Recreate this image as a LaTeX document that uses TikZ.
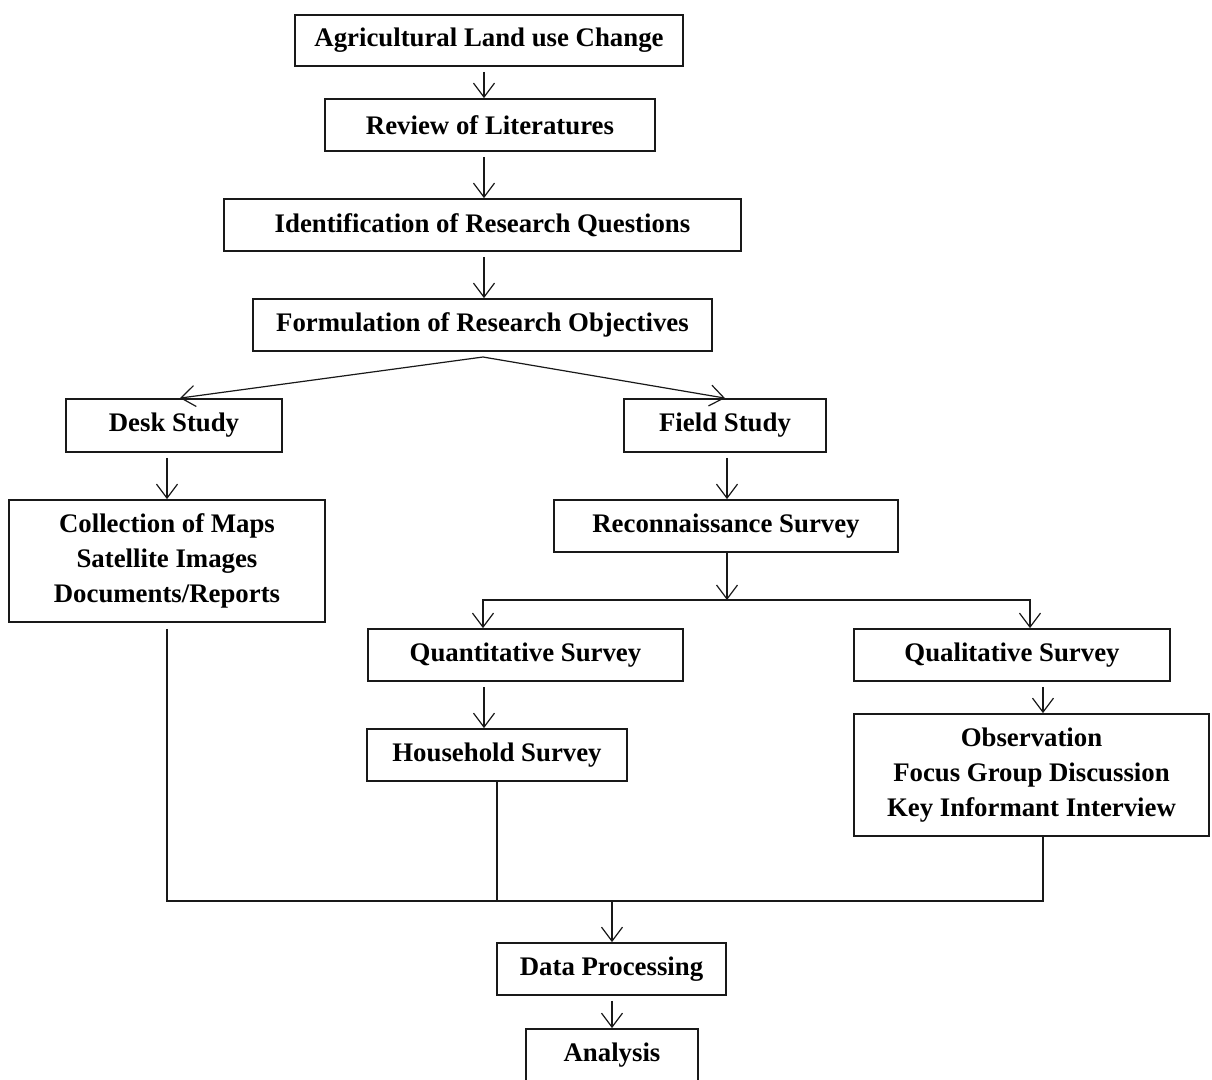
\documentclass[tikz,border=0pt]{standalone}
\usepackage{fontspec}
\setmainfont{Liberation Serif}
\usetikzlibrary{arrows.meta}
\tikzset{>={Straight Barb[length=14pt,width=21pt]}}
\colorlet{background}{white}
\colorlet{penColor}{black!90}
\tikzset{stage/.style={draw=penColor, line width=1.8pt, inner sep=0pt, align=center,
    font=\fontsize{26.8}{35}\selectfont\bfseries},
  link/.style={penColor, line width=1.2pt},
  arrowlink/.style={link, ->, shorten <=5pt}}

\begin{document}
\begin{tikzpicture}[x=1pt,y=-1pt]
\useasboundingbox[fill=background] (0,0) rectangle (1212,1079);
% boxes
\node[stage, minimum width=388pt, minimum height=51pt] (agri) at (489,40.5) {Agricultural Land use Change};
\node[stage, minimum width=330pt, minimum height=52pt] (review) at (490,125) {Review of Literatures};
\node[stage, minimum width=517pt, minimum height=52pt] (ident) at (482.5,225) {Identification of Research Questions};
\node[stage, minimum width=459pt, minimum height=52pt] (formul) at (482.5,325) {Formulation of Research Objectives};
\node[stage, minimum width=216pt, minimum height=53pt] (desk) at (174,425.5) {Desk Study};
\node[stage, minimum width=202pt, minimum height=53pt] (field) at (725,425.5) {Field Study};
\node[stage, minimum width=316pt, minimum height=122pt] (collect) at (167,561) {Collection of Maps\\Satellite Images\\Documents/Reports};
\node[stage, minimum width=344pt, minimum height=52pt] (recon) at (726,526) {Reconnaissance Survey};
\node[stage, minimum width=315pt, minimum height=52pt] (quant) at (525.5,655) {Quantitative Survey};
\node[stage, minimum width=316pt, minimum height=52pt] (qual) at (1012,655) {Qualitative Survey};
\node[stage, minimum width=260pt, minimum height=52pt] (house) at (497,755) {Household Survey};
\node[stage, minimum width=355pt, minimum height=122pt] (observ) at (1031.5,775) {Observation\\Focus Group Discussion\\Key Informant Interview};
\node[stage, minimum width=229pt, minimum height=52pt] (data) at (611.5,969) {Data Processing};
\node[stage, minimum width=172pt, minimum height=52pt] (analysis) at (612,1055) {Analysis};
% guide points
\coordinate (spine) at (484,0);
\coordinate (split) at (483,357);
\coordinate (fork) at (727,600);
\coordinate (quantin) at (483,0);
\coordinate (qualin) at (1030,0);
\coordinate (qualout) at (1043,0);
\coordinate (merge) at (612,901);
% arrows
\draw[arrowlink] (agri.south -| spine) -- (review.north -| spine);
\draw[arrowlink] (review.south -| spine) -- (ident.north -| spine);
\draw[arrowlink] (ident.south -| spine) -- (formul.north -| spine);
\draw[->, link] (split) -- ([xshift=6pt]desk.north);
\draw[->, link] (split) -- (field.north);
\draw[arrowlink] (desk.south -| collect) -- (collect.north);
\draw[arrowlink] (field.south -| fork) -- (recon.north -| fork);
\draw[->, link] (recon.south -| fork) -- (fork);
\draw[->, link] (fork) -| (quant.north -| quantin);
\draw[->, link] (fork) -| (qual.north -| qualin);
\draw[arrowlink] (quant.south -| spine) -- (house.north -| spine);
\draw[arrowlink] (qual.south -| qualout) -- (observ.north -| qualout);
\draw[link] ([yshift=-6pt]collect.south) -- (collect.south |- merge) -- (merge -| qualout) -- (observ.south -| qualout);
\draw[link] (house.south) -- (house.south |- merge);
\draw[->, link] (merge) -- (data.north -| merge);
\draw[arrowlink] (data.south -| merge) -- (analysis.north -| merge);
\end{tikzpicture}
\end{document}
